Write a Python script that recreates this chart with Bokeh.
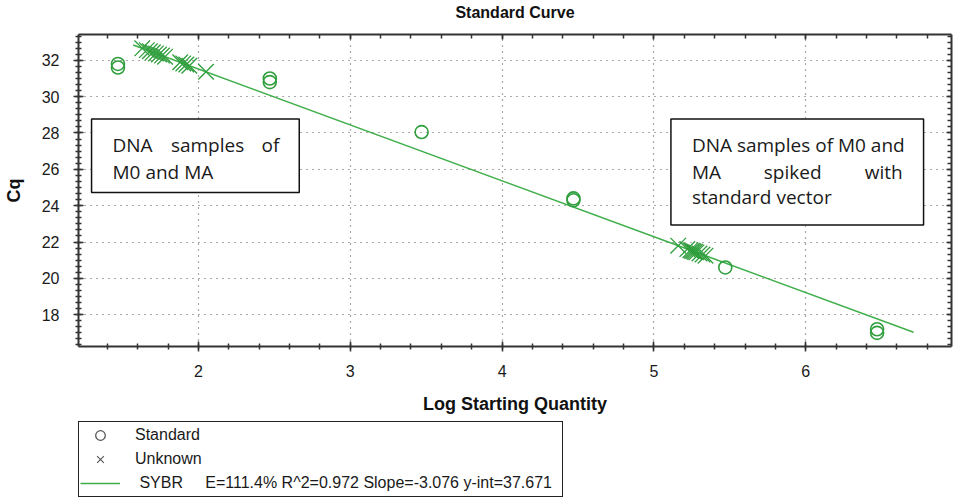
from bokeh.plotting import figure
from bokeh.models import (Range1d, LinearAxis, SingleIntervalTicker, Legend, LegendItem,
                          BoxAnnotation, Label, CustomJSTickFormatter)
from bokeh.layouts import column
from bokeh.embed import file_html
from bokeh.resources import INLINE

# ---- data ----
std_log = [1.47, 1.47, 2.47, 2.47, 3.47, 4.47, 4.47, 5.47, 6.47, 6.47]
std_cq = [31.8, 31.6, 31.0, 30.8, 28.05, 24.4, 24.3, 20.6, 17.2, 17.0]

unk_log = [1.63, 1.66, 1.68, 1.70, 1.72, 1.74, 1.76, 1.78, 1.88, 1.90, 1.92, 1.94, 2.05,
           5.16, 5.22, 5.24, 5.25, 5.26, 5.27, 5.28, 5.30, 5.32, 5.34]
unk_cq = [32.66, 32.56, 32.50, 32.44, 32.38, 32.32, 32.26, 32.20, 31.89, 31.83, 31.77, 31.70, 31.37,
          21.80, 21.61, 21.55, 21.52, 21.49, 21.46, 21.43, 21.37, 21.31, 21.25]

slope = -3.076
intercept = 37.671
fit_log = [1.57, 6.71]
fit_cq = [intercept + slope * v for v in fit_log]

title_text = "Standard Curve"
legend_labels = ["Standard", "Unknown",
                 "\u00a0SYBR" + "\u00a0" * 5 + "E=111.4% R^2=0.972 Slope=-3.076 y-int=37.671\u00a0\u00a0"]

GREEN_LINE = "#3fae49"
GREEN_MK = "#2f9e3d"
AX = "#333333"
FONT = "Liberation Sans"
NAN = float("nan")

# ---- title strip ----
t = figure(width=953, height=26, x_range=Range1d(0, 1), y_range=Range1d(0, 26),
           output_backend="svg", toolbar_location=None,
           min_border_left=0, min_border_right=0, min_border_top=0, min_border_bottom=0)
t.axis.visible = False
t.grid.visible = False
t.outline_line_color = None
t.border_fill_color = "white"
t.add_layout(Label(x=0.5, y=14, text=title_text, text_align="center", text_baseline="middle",
                   text_font=FONT, text_font_size="16px", text_font_style="bold",
                   text_color="#111111"))

# ---- main chart ----
p = figure(width=953, height=390,
           x_range=Range1d(1.21, 6.96), y_range=Range1d(16.25, 33.42),
           output_backend="svg", toolbar_location=None,
           min_border_left=77, min_border_right=2, min_border_top=8, min_border_bottom=68)
p.outline_line_color = None
p.background_fill_color = "white"
p.border_fill_color = "white"

xt = SingleIntervalTicker(interval=1, num_minor_ticks=5)
yt = SingleIntervalTicker(interval=2, num_minor_ticks=6)
p.xaxis.ticker = xt
p.yaxis.ticker = yt
p.xgrid.ticker = xt
p.ygrid.ticker = yt

for ax in (p.xaxis[0], p.yaxis[0]):
    ax.axis_line_color = AX
    ax.axis_line_width = 2
    ax.major_tick_line_color = AX
    ax.minor_tick_line_color = AX
    ax.major_tick_line_width = 1.5
    ax.minor_tick_line_width = 1.5
    ax.major_tick_in = 5
    ax.major_tick_out = 5
    ax.minor_tick_in = 3
    ax.minor_tick_out = 3
    ax.major_label_text_font = FONT
    ax.major_label_text_font_size = "16px"
    ax.major_label_text_color = "#1a1a1a"
    ax.axis_label_text_font = FONT
    ax.axis_label_text_font_size = "18px"
    ax.axis_label_text_font_style = "bold"
    ax.axis_label_text_color = "#111111"

p.xaxis.axis_label = "Log Starting Quantity"
p.yaxis.axis_label = "Cq"
p.xaxis.major_label_standoff = 13
p.xaxis.axis_label_standoff = 14
p.yaxis.major_label_standoff = 14
p.yaxis.axis_label_standoff = 15

blank = CustomJSTickFormatter(code="return ''")
for loc in ("above", "right"):
    a = LinearAxis(ticker=xt if loc == "above" else yt, formatter=blank,
                   major_label_standoff=0, major_label_text_font_size="1px",
                   axis_line_color=AX, axis_line_width=2,
                   major_tick_line_color=AX, minor_tick_line_color=AX,
                   major_tick_line_width=1.5, minor_tick_line_width=1.5,
                   major_tick_in=5, major_tick_out=0, minor_tick_in=4, minor_tick_out=0)
    p.add_layout(a, loc)

for g in (p.xgrid[0], p.ygrid[0]):
    g.grid_line_color = "#555555"
    g.grid_line_dash = "1 5"
    g.grid_line_width = 1.2

# ---- data marks ----
p.line(fit_log, fit_cq, line_color=GREEN_LINE, line_width=1.6)
p.scatter(std_log, std_cq, marker="circle", size=13, fill_color=None,
          line_color=GREEN_MK, line_width=1.6)
p.scatter(unk_log, unk_cq, marker="x", size=22, line_color=GREEN_MK, line_width=1.3)

# ---- annotation boxes ----
boxes = [(1.296, 2.664, 28.776, 24.73), (5.112, 6.776, 28.776, 22.93)]
for (l, r, tp, b) in boxes:
    p.add_layout(BoxAnnotation(left=l, right=r, top=tp, bottom=b, fill_color="white", fill_alpha=1,
                               line_color="#111111", line_alpha=1, line_width=1.5))

words = [
    ("DNA", 1.434, 27.355, "left"), ("samples", 2.06, 27.355, "center"), ("of", 2.533, 27.355, "right"),
    ("M0 and MA", 1.434, 25.88, "left"),
    ("DNA samples of M0 and", 5.25, 27.355, "left"),
    ("MA", 5.25, 25.88, "left"), ("spiked", 5.914, 25.88, "center"), ("with", 6.638, 25.88, "right"),
    ("standard vector", 5.25, 24.46, "left"),
]
for (txt, x, y, al) in words:
    p.add_layout(Label(x=x, y=y, text=txt, text_align=al, text_baseline="middle",
                       text_font="Open Sans", text_font_size="19px", text_color="#1a1a1a"))

# ---- legend panel below the chart ----
q = figure(width=953, height=84, x_range=Range1d(0, 1), y_range=Range1d(0, 1),
           output_backend="svg", toolbar_location=None,
           min_border_left=0, min_border_right=0, min_border_top=0, min_border_bottom=0)
q.axis.visible = False
q.grid.visible = False
q.outline_line_color = None
q.border_fill_color = "white"

l_std = q.scatter(x=[NAN], y=[NAN], marker="circle", size=13, fill_color=None,
                  line_color="#555555", line_width=1.3)
l_unk = q.scatter(x=[NAN], y=[NAN], marker="x", size=15, line_color="#555555", line_width=1.1)
l_fit = q.line(x=[NAN, NAN], y=[NAN, NAN], line_color=GREEN_LINE, line_width=1.6)

legend = Legend(items=[LegendItem(label=legend_labels[0], renderers=[l_std]),
                       LegendItem(label=legend_labels[1], renderers=[l_unk]),
                       LegendItem(label=legend_labels[2], renderers=[l_fit])],
                location=(0, 3), orientation="vertical",
                border_line_color="#222222", border_line_width=1.5, border_line_alpha=1,
                background_fill_color="white", background_fill_alpha=1,
                padding=1, spacing=0, margin=0,
                glyph_width=40, glyph_height=24, label_height=20, label_standoff=15,
                label_text_font=FONT, label_text_font_size="16px", label_text_color="#1a1a1a")
q.add_layout(legend)

layout = column(t, p, q, spacing=0)
open("out.html", "w").write(file_html(layout, INLINE))
